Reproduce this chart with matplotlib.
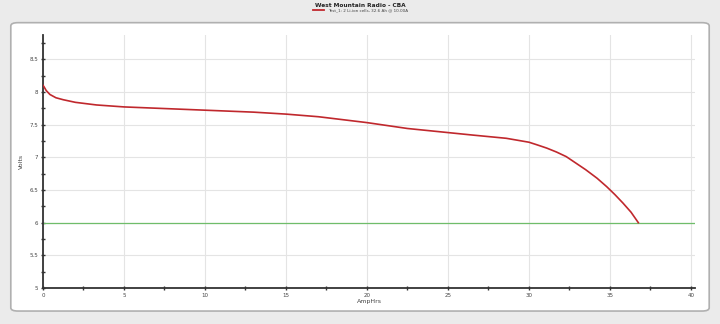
import matplotlib.pyplot as plt
from matplotlib.patches import FancyBboxPatch

# capacity test data
amphrs = [0, 0.06, 0.2, 0.43, 0.8, 1.25, 2, 3.3, 5, 8, 11, 13, 15, 17, 20,
          22.5, 24.5, 26.5, 28.6, 30, 30.5, 31.1, 31.7, 32.3, 32.9, 33.5,
          34.2, 34.8, 35.3, 35.8, 36.3, 36.75]
volts = [8.1, 8.08, 8.02, 7.96, 7.91, 7.88, 7.84, 7.8, 7.77, 7.74, 7.71,
         7.69, 7.66, 7.62, 7.53, 7.44, 7.39, 7.34, 7.29, 7.23, 7.19, 7.14,
         7.08, 7.01, 6.91, 6.81, 6.68, 6.55, 6.43, 6.3, 6.16, 6.0]
cutoff = 6.0

title = 'West Mountain Radio - CBA'
legend_label = 'Test_1: 2 Li-ion cells, 32.6 Ah @ 10.00A'

fig = plt.figure(figsize=(7.2, 3.24), dpi=100)
fig.patch.set_facecolor('#ebebeb')

# white rounded panel behind the plot
panel = FancyBboxPatch((0.015, 0.04), 0.97, 0.89,
                       boxstyle='round,pad=0,rounding_size=0.01',
                       transform=fig.transFigure, facecolor='white',
                       edgecolor='#b0b0b0', linewidth=1.2, zorder=-10)
fig.patches.append(panel)

ax = fig.add_axes([0.0597, 0.111, 0.9056, 0.781])
ax.set_zorder(1)
ax.set_facecolor('none')

ax.plot(amphrs, volts, color='#c0282d', linewidth=1.2, zorder=3)
ax.axhline(cutoff, color='#6fbd6a', linewidth=0.9, zorder=2)

ax.set_xlim(0, 40.25)
ax.set_ylim(5, 8.87)
ax.set_xticks(range(0, 41, 5))
ax.set_xticks([x + 2.5 for x in range(0, 40, 5)], minor=True)
ax.set_yticks([5, 5.5, 6, 6.5, 7, 7.5, 8, 8.5])
ax.set_yticks([5.25, 5.75, 6.25, 6.75, 7.25, 7.75, 8.25, 8.75], minor=True)
ax.set_yticklabels(['5', '5.5', '6', '6.5', '7', '7.5', '8', '8.5'])
ax.grid(True, which='major', color='#e4e4e4', linewidth=0.8)

for s in ['top', 'right']:
    ax.spines[s].set_visible(False)
for s in ['left', 'bottom']:
    ax.spines[s].set_color('#333333')
    ax.spines[s].set_linewidth(1.3)

ax.tick_params(which='both', direction='inout', length=3, width=1,
               color='#333333', labelsize=4, labelcolor='#444444', pad=2)

ax.set_xlabel('AmpHrs', fontsize=4.5, color='#444444', labelpad=1)
ax.set_ylabel('Volts', fontsize=4.5, color='#444444', labelpad=4)

fig.text(0.5, 0.99, title, ha='center', va='top', fontsize=4.2,
         fontweight='bold', color='#222222')
fig.add_artist(plt.Line2D([0.435, 0.45], [0.968, 0.968],
                          color='#c0282d', linewidth=1.3,
                          transform=fig.transFigure))
fig.text(0.455, 0.968, legend_label, ha='left', va='center', fontsize=3,
         color='#444444')

fig.savefig('out.png', dpi=100, facecolor=fig.get_facecolor())
